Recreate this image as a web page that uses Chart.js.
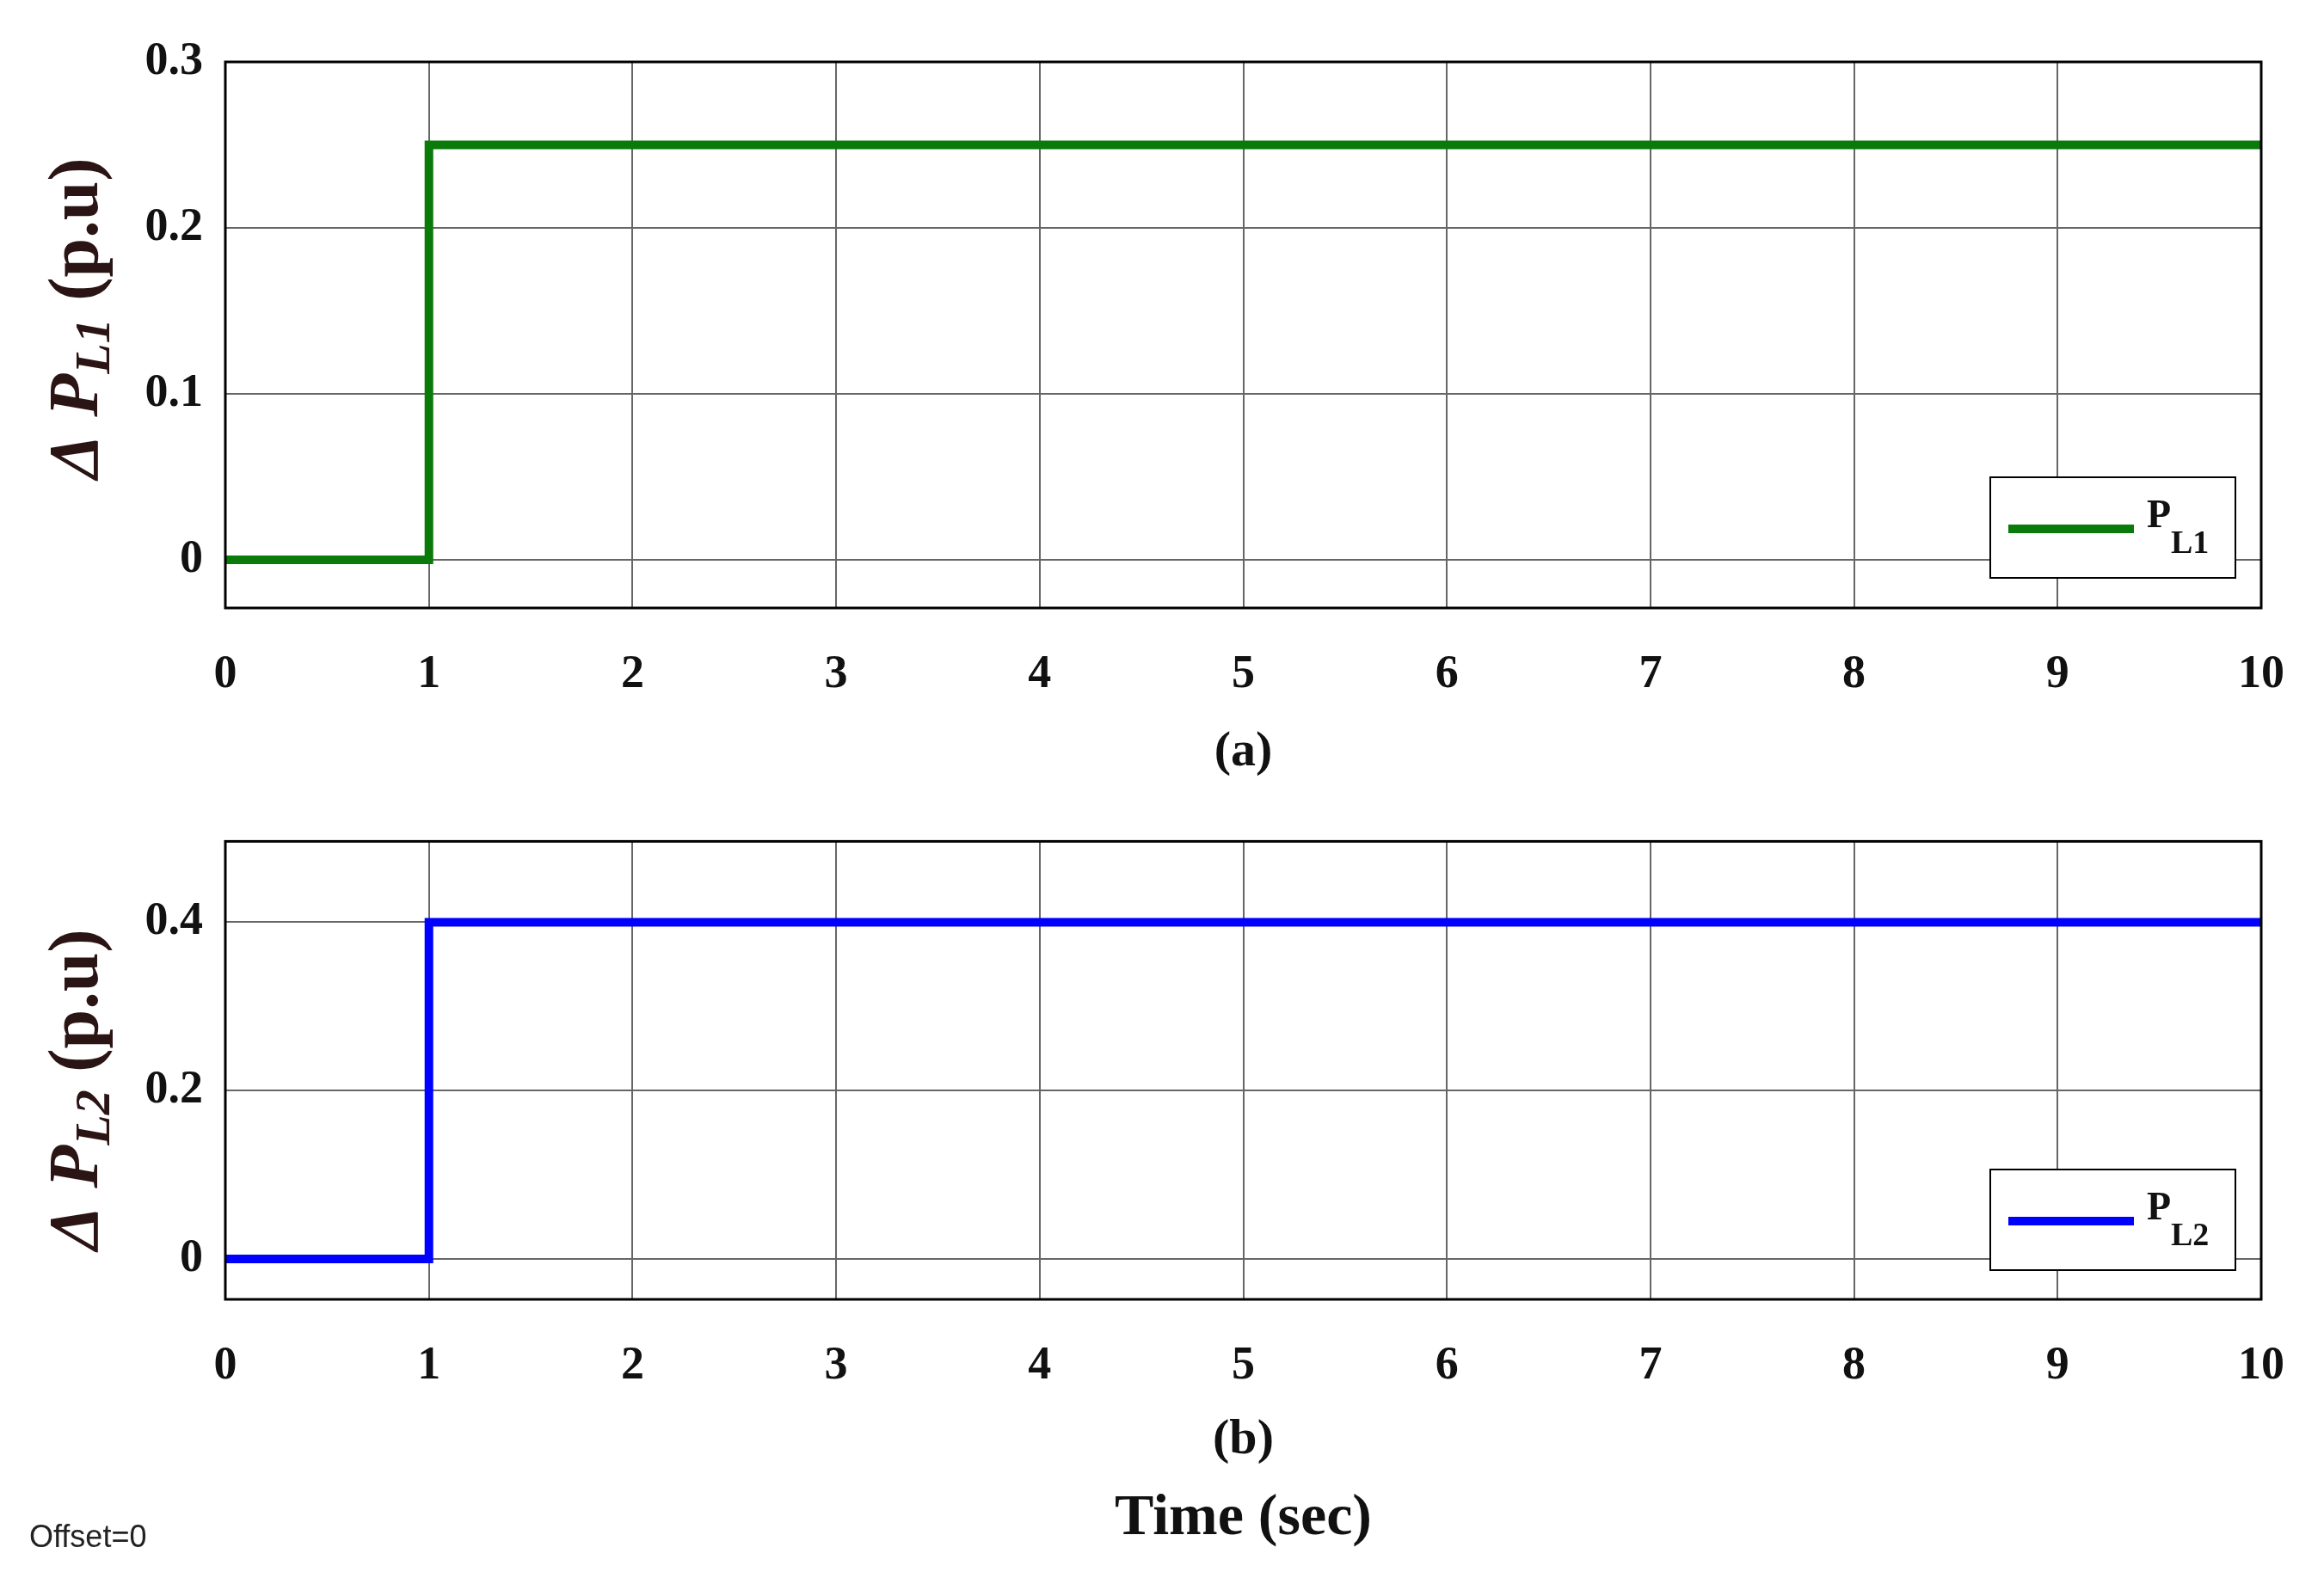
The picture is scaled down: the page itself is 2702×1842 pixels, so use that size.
<!DOCTYPE html>
<html>
<head>
<meta charset="utf-8">
<script src="https://cdn.jsdelivr.net/npm/chart.js@4/dist/chart.umd.min.js"></script>
<style>
  body { margin: 0; background: #fff; }
  .wrap { position: absolute; left: 0; width: 2702px; }
  #note { position: absolute; left: 34px; top: 1766px; font: 36px "Liberation Sans", Arial, sans-serif; color: #222; }
</style>
</head>
<body>
<div class="wrap" style="top:0;height:920px"><canvas id="c1" width="2702" height="920"></canvas></div>
<div class="wrap" style="top:920px;height:922px"><canvas id="c2" width="2702" height="922"></canvas></div>
<div id="note">Offset=0</div>
<script>
// step load disturbances
const time = [0, 1, 1, 10];
const pl1 = [0, 0, 0.25, 0.25];
const pl2 = [0, 0, 0.4, 0.4];
const xTicks = [0, 1, 2, 3, 4, 5, 6, 7, 8, 9, 10];
const yTicks1 = [0, 0.1, 0.2, 0.3];
const yTicks2 = [0, 0.2, 0.4];

const serif = "'Liberation Serif', 'Times New Roman', serif";

function frame(opts) {
  return {
    id: "frame",
    afterDraw(chart) {
      const { ctx, chartArea: a } = chart;
      ctx.save();
      ctx.strokeStyle = "#000";
      ctx.lineWidth = 3;
      ctx.strokeRect(a.left, a.top, a.right - a.left, a.bottom - a.top);

      // y title
      ctx.translate(92, opts.yTitleY);
      ctx.rotate(-Math.PI / 2);
      ctx.fillStyle = "#2a1414";
      ctx.textBaseline = "middle";
      const parts = [
        ["italic bold 82px " + serif, "Δ ", 0],
        ["italic bold 82px " + serif, "P", 0],
        ["italic bold 58px " + serif, opts.sub, 20],
        ["bold 82px " + serif, " (p.u)", 0]
      ];
      let w = 0;
      parts.forEach(p => { ctx.font = p[0]; w += ctx.measureText(p[1]).width; });
      let x = -w / 2;
      parts.forEach(p => { ctx.font = p[0]; ctx.fillText(p[1], x, p[2]); x += ctx.measureText(p[1]).width; });
      ctx.setTransform(1, 0, 0, 1, 0, 0);

      // bottom texts
      ctx.fillStyle = "#111";
      ctx.textAlign = "center";
      ctx.textBaseline = "middle";
      opts.below.forEach(t => { ctx.font = t[2]; ctx.fillText(t[0], (a.left + a.right) / 2, t[1]); });

      // legend box
      const L = opts.legend;
      ctx.fillStyle = "#fff";
      ctx.fillRect(L.x, L.y, 285, 117);
      ctx.strokeStyle = "#000";
      ctx.lineWidth = 2;
      ctx.strokeRect(L.x, L.y, 285, 117);
      ctx.strokeStyle = opts.color;
      ctx.lineWidth = 10;
      ctx.beginPath();
      ctx.moveTo(L.x + 21, L.y + 60);
      ctx.lineTo(L.x + 167, L.y + 60);
      ctx.stroke();
      ctx.fillStyle = "#111";
      ctx.textAlign = "left";
      ctx.font = "bold 46px " + serif;
      ctx.fillText("P", L.x + 182, L.y + 46);
      ctx.font = "bold 38px " + serif;
      ctx.fillText(opts.sub, L.x + 210, L.y + 78);
      ctx.restore();
    }
  };
}

function makeChart(id, ys, color, yMin, yMax, yTicks, pad, xAxisH, opts) {
  const data = time.map((t, i) => ({ x: t, y: ys[i] }));
  return new Chart(document.getElementById(id), {
    type: "line",
    data: { datasets: [{ data, borderColor: color, borderWidth: 10, pointRadius: 0, tension: 0 }] },
    options: {
      responsive: false,
      animation: false,
      layout: { padding: { top: pad, right: 44, left: 0, bottom: 0 } },
      plugins: { legend: { display: false }, tooltip: { enabled: false } },
      scales: {
        x: {
          type: "linear", min: 0, max: 10,
          afterBuildTicks: s => { s.ticks = xTicks.map(v => ({ value: v })); },
          afterFit: s => { s.height = xAxisH; },
          grid: { color: "#666", lineWidth: 2, drawTicks: false },
          border: { display: false },
          ticks: { padding: 46, color: "#111", font: { family: serif, size: 54, weight: "bold" }, maxRotation: 0 }
        },
        y: {
          min: yMin, max: yMax,
          afterBuildTicks: s => { s.ticks = yTicks.map(v => ({ value: v })); },
          afterFit: s => { s.width = 262; },
          grid: { color: "#666", lineWidth: 2, drawTicks: false },
          border: { display: false },
          ticks: { padding: 26, color: "#111", font: { family: serif, size: 54, weight: "bold" } }
        }
      }
    },
    plugins: [frame(opts)]
  });
}

makeChart("c1", pl1, "#0a7a0a", -0.029, 0.3, yTicks1, 72, 213, {
  sub: "L1", color: "#0a7a0a", yTitleY: 370,
  below: [["(a)", 875, "bold 58px " + serif]],
  legend: { x: 2314, y: 555 }
});
makeChart("c2", pl2, "#0000ff", -0.048, 0.496, yTicks2, 45, 331, {
  sub: "L2", color: "#0000ff", yTitleY: 347,
  below: [["(b)", 755, "bold 58px " + serif], ["Time (sec)", 846, "bold 68px " + serif]],
  legend: { x: 2314, y: 440 }
});
</script>
</body>
</html>
